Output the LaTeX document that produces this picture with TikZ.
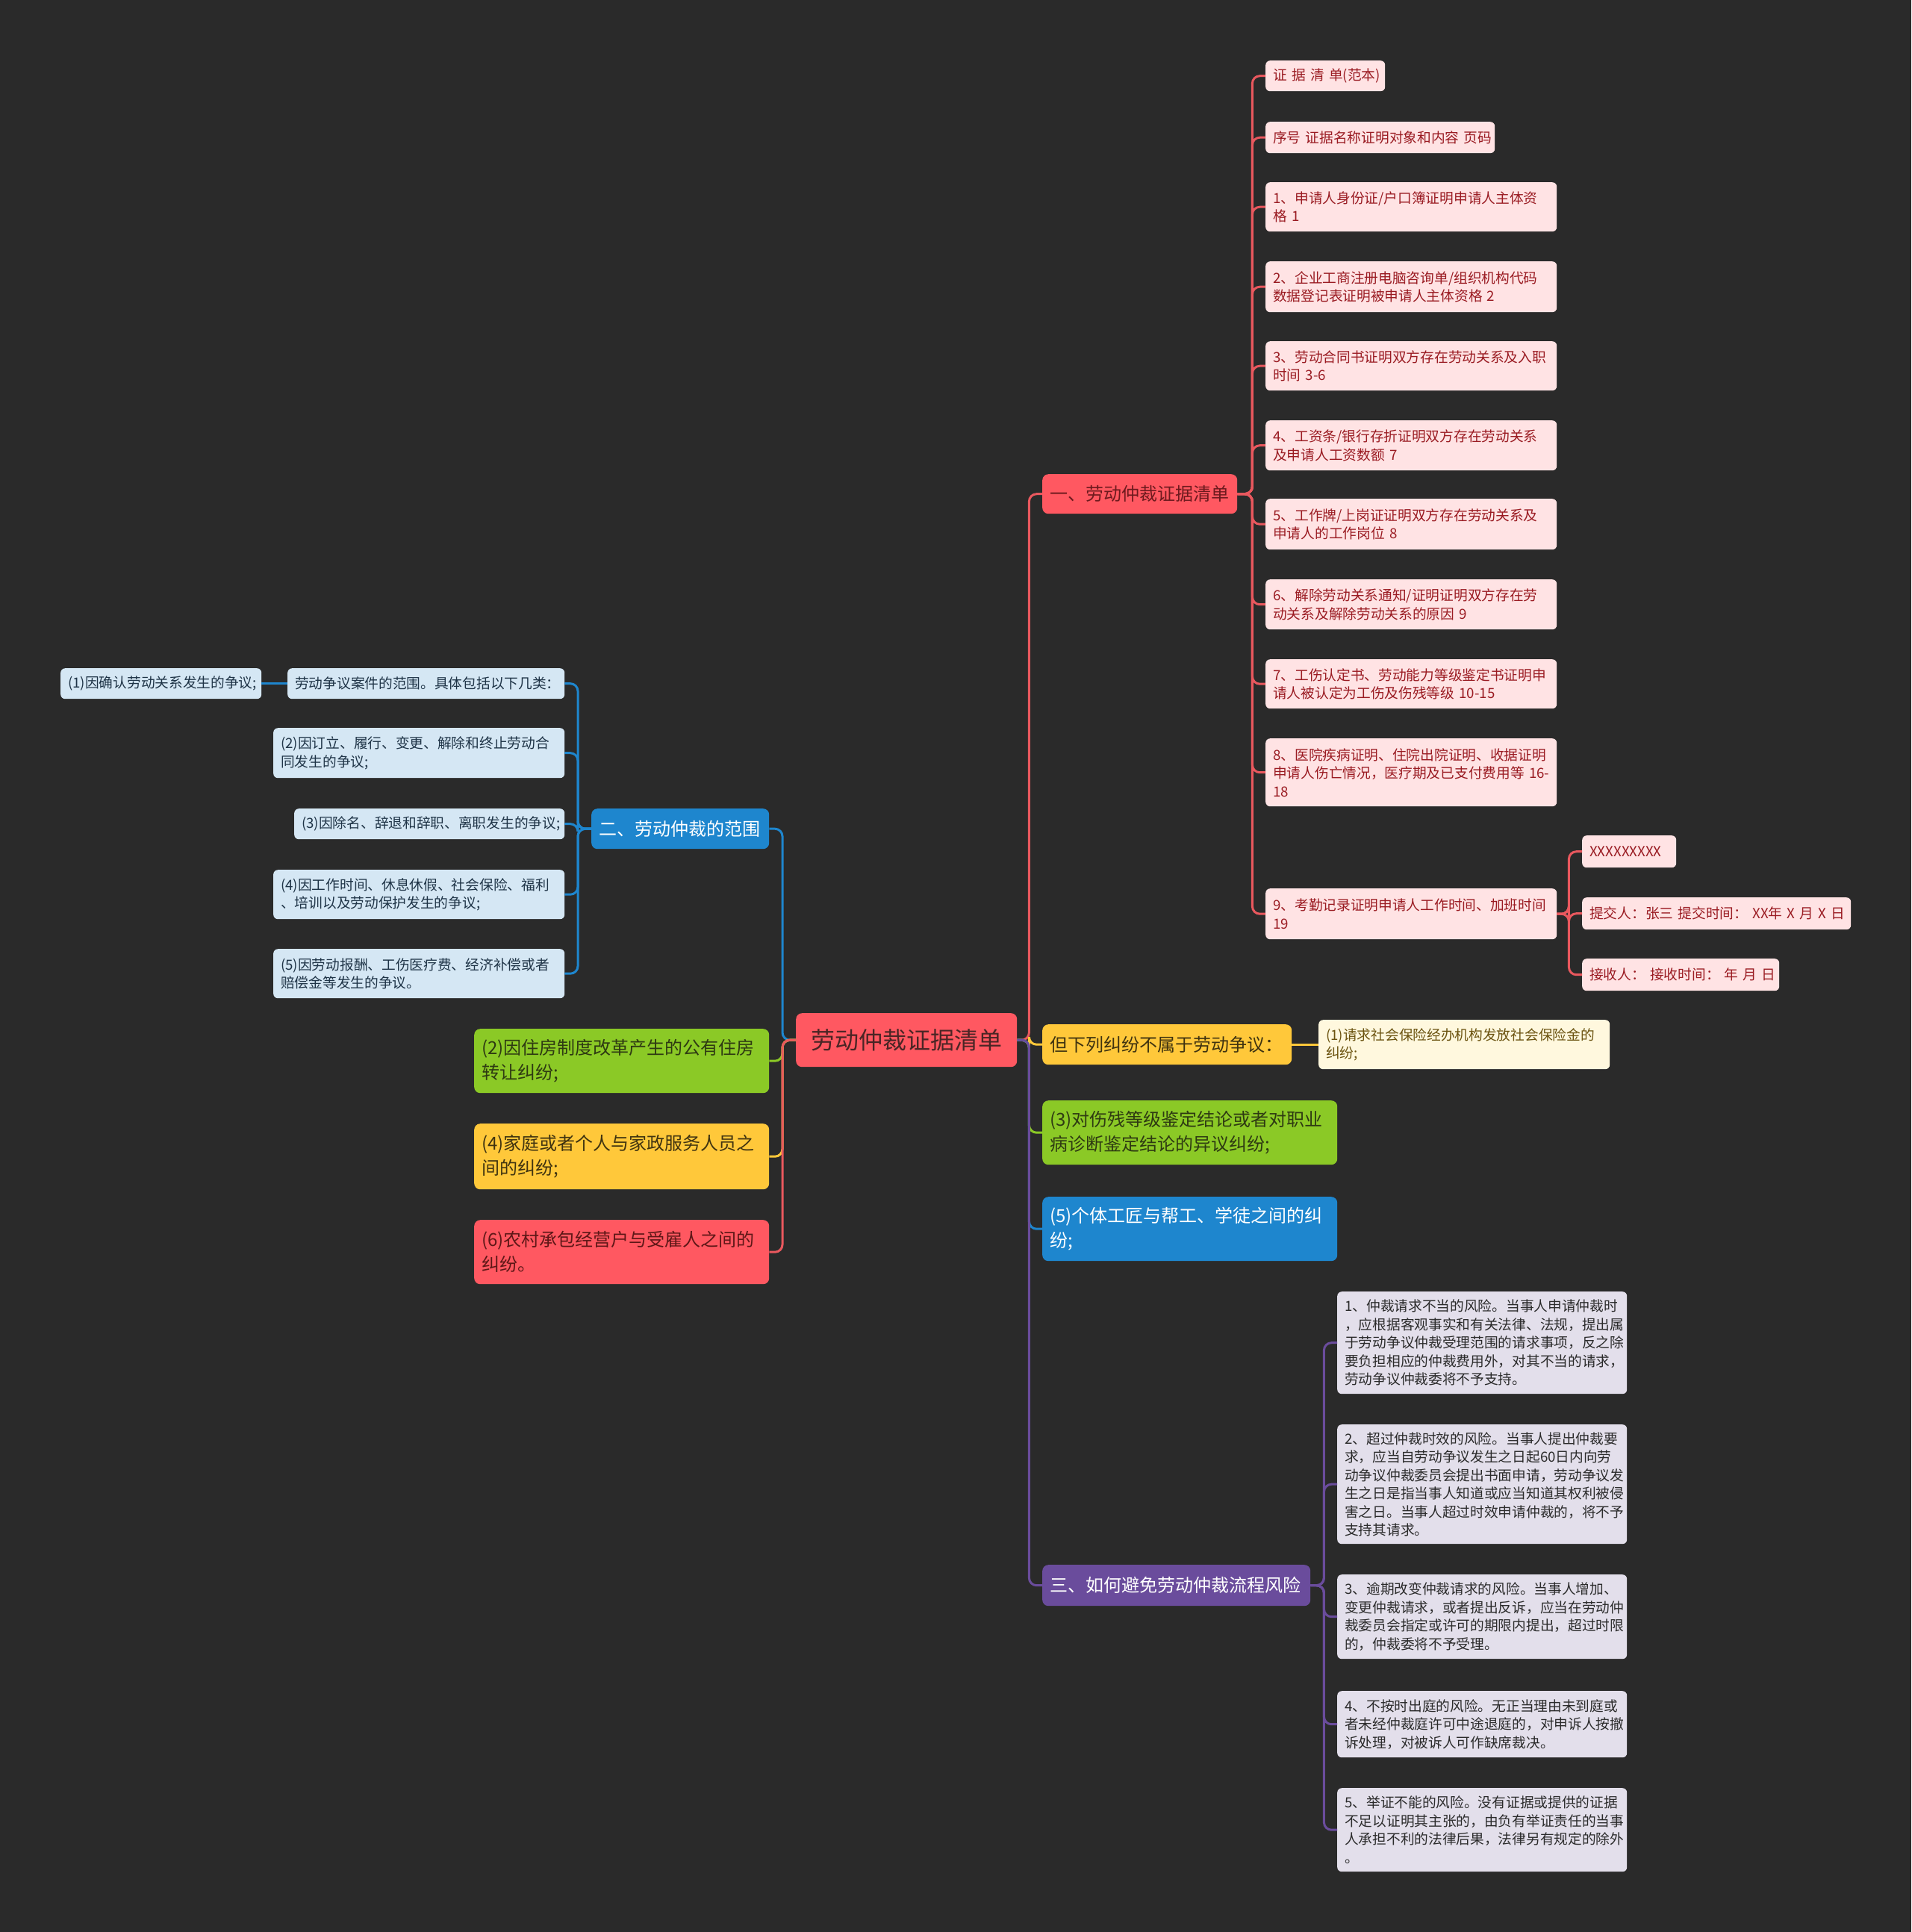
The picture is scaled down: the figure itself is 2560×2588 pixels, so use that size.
\documentclass[tikz,border=0pt]{standalone}
\usepackage{fontspec}
\setmainfont{Noto Sans CJK SC}
\definecolor{bg}{HTML}{2A2A2A}
\definecolor{redF}{HTML}{FF5861}
\definecolor{redL}{HTML}{E9585E}
\definecolor{pinkF}{HTML}{FFE3E4}
\definecolor{pinkT}{HTML}{9A1B22}
\definecolor{blueF}{HTML}{1E86CE}
\definecolor{lblueF}{HTML}{D5E7F4}
\definecolor{lblueT}{HTML}{1F3447}
\definecolor{greenF}{HTML}{8BC926}
\definecolor{greenT}{HTML}{2E3A12}
\definecolor{yelF}{HTML}{FFC83A}
\definecolor{yelT}{HTML}{3F3310}
\definecolor{lyelF}{HTML}{FFF8DE}
\definecolor{lyelT}{HTML}{6B5310}
\definecolor{purF}{HTML}{6A4C9C}
\definecolor{lpurF}{HTML}{E3DFEB}
\definecolor{lpurT}{HTML}{2B2B2B}
\definecolor{cenT}{HTML}{4A2525}
\definecolor{r1T}{HTML}{6E1A1E}
\definecolor{l6T}{HTML}{5E1717}
\tikzset{
  box/.style={rounded corners=6pt, inner xsep=10pt, inner ysep=0pt, align=left, anchor=north west},
  small/.style={box, font=\fontsize{18.7}{24.5}\selectfont},
  big/.style={box, rounded corners=8pt, font=\fontsize{24}{33}\selectfont},
  pinkbox/.style={small, fill=pinkF, text=pinkT},
  lbluebox/.style={small, fill=lblueF, text=lblueT},
  lpurbox/.style={small, fill=lpurF, text=lpurT},
  lyelbox/.style={small, fill=lyelF, text=lyelT},
  ln/.style={line width=3pt, rounded corners=10pt},
  redln/.style={ln, draw=redL},
  blueln/.style={ln, draw=blueF},
  greenln/.style={ln, draw=greenF},
  yelln/.style={ln, draw=yelF},
  purln/.style={ln, draw=purF}
}
\newcommand\bx[7]{\pgfmathsetmacro\tw{#5-20}\node[#2, minimum width=#5pt, minimum height=#6pt, text width=\tw pt] (#1) at (#3,#4) {#7};}
\begin{document}
\begin{tikzpicture}[x=1pt,y=-1pt]
\fill[bg] (0,0) rectangle (2560,2588);
\useasboundingbox (0,0) rectangle (2560,2588);
% center
\bx{C}{big, fill=redF, text=cenT, align=center, font=\fontsize{32}{38}\selectfont}{1066}{1357}{296}{72}{劳动仲裁证据清单}
% branch 1
\bx{R1}{big, fill=redF, text=r1T}{1396}{635}{261}{53}{一、劳动仲裁证据清单}
\bx{c0}{pinkbox}{1695}{81}{160}{41}{\mbox{证~据~清~单(范本)}}
\bx{c1}{pinkbox}{1695}{163}{307}{42}{\mbox{序号~证据名称证明对象和内容~页码}}
\bx{c2}{pinkbox}{1695}{244}{390}{66}{\mbox{1、申请人身份证/户口簿证明申请人主体资}\\格~1}
\bx{c3}{pinkbox}{1695}{350}{390}{68}{\mbox{2、企业工商注册电脑咨询单/组织机构代码}\\数据登记表证明被申请人主体资格~2}
\bx{c4}{pinkbox}{1695}{457}{390}{66}{\mbox{3、劳动合同书证明双方存在劳动关系及入职}\\时间~3-6}
\bx{c5}{pinkbox}{1695}{563}{390}{67}{\mbox{4、工资条/银行存折证明双方存在劳动关系}\\及申请人工资数额~7}
\bx{c6}{pinkbox}{1695}{668}{390}{68}{\mbox{5、工作牌/上岗证证明双方存在劳动关系及}\\申请人的工作岗位~8}
\bx{c7}{pinkbox}{1695}{776}{390}{67}{\mbox{6、解除劳动关系通知/证明证明双方存在劳}\\动关系及解除劳动关系的原因~9}
\bx{c8}{pinkbox}{1695}{883}{390}{66}{\mbox{7、工伤认定书、劳动能力等级鉴定书证明申}\\\mbox{请人被认定为工伤及伤残等级~10-15}}
\bx{c9}{pinkbox}{1695}{989}{390}{91}{\mbox{8、医院疾病证明、住院出院证明、收据证明}\\\mbox{申请人伤亡情况，医疗期及已支付费用等~16-}\\18}
\bx{c10}{pinkbox}{1695}{1190}{390}{68}{\mbox{9、考勤记录证明申请人工作时间、加班时间}\\19}
\bx{g0}{pinkbox}{2119}{1119}{126}{43}{XXXXXXXXX}
\bx{g1}{pinkbox}{2119}{1202}{360}{43}{\mbox{提交人：张三~提交时间：~XX年~X~月~X~日}}
\bx{g2}{pinkbox}{2119}{1284}{264}{43}{\mbox{接收人：~接收时间：~年~月~日}}
% branch 2
\bx{B2}{big, fill=blueF, text=white}{792}{1083}{238}{54}{二、劳动仲裁的范围}
\bx{b0}{lbluebox}{385}{895}{371}{41}{\mbox{劳动争议案件的范围。具体包括以下几类：}}
\bx{b00}{lbluebox}{81}{895}{269}{41}{\mbox{(1)因确认劳动关系发生的争议;}}
\bx{b1}{lbluebox}{366}{975}{390}{67}{\mbox{(2)因订立、履行、变更、解除和终止劳动合}\\同发生的争议;}
\bx{b2}{lbluebox}{394}{1083}{362}{41}{\mbox{(3)因除名、辞退和辞职、离职发生的争议;}}
\bx{b3}{lbluebox}{366}{1165}{390}{66}{\mbox{(4)因工作时间、休息休假、社会保险、福利}\\、培训以及劳动保护发生的争议;}
\bx{b4}{lbluebox}{366}{1271}{390}{66}{\mbox{(5)因劳动报酬、工伤医疗费、经济补偿或者}\\赔偿金等发生的争议。}
% left big
\bx{L2}{big, fill=greenF, text=greenT}{635}{1378}{395}{86}{(2)因住房制度改革产生的公有住房\\转让纠纷;}
\bx{L4}{big, fill=yelF, text=yelT}{635}{1505}{395}{88}{(4)家庭或者个人与家政服务人员之\\间的纠纷;}
\bx{L6}{big, fill=redF, text=l6T}{635}{1634}{395}{86}{(6)农村承包经营户与受雇人之间的\\纠纷。}
% right others
\bx{Y}{big, fill=yelF, text=yelT}{1396}{1372}{334}{54}{但下列纠纷不属于劳动争议：}
\bx{Yc}{lyelbox}{1766}{1366}{390}{66}{\mbox{(1)请求社会保险经办机构发放社会保险金的}\\纠纷;}
\bx{G3}{big, fill=greenF, text=greenT}{1396}{1474}{395}{86}{(3)对伤残等级鉴定结论或者对职业\\病诊断鉴定结论的异议纠纷;}
\bx{B5}{big, fill=blueF, text=white}{1396}{1603}{395}{86}{(5)个体工匠与帮工、学徒之间的纠\\纷;}
\bx{P3}{big, fill=purF, text=white}{1396}{2096}{359}{55}{三、如何避免劳动仲裁流程风险}
\bx{p1}{lpurbox}{1791}{1730}{388}{137}{\mbox{1、仲裁请求不当的风险。当事人申请仲裁时}\\\mbox{，应根据客观事实和有关法律、法规，提出属}\\\mbox{于劳动争议仲裁受理范围的请求事项，反之除}\\\mbox{要负担相应的仲裁费用外，对其不当的请求，}\\劳动争议仲裁委将不予支持。}
\bx{p2}{lpurbox}{1791}{1908}{388}{160}{\mbox{2、超过仲裁时效的风险。当事人提出仲裁要}\\\mbox{求，应当自劳动争议发生之日起60日内向劳}\\\mbox{动争议仲裁委员会提出书面申请，劳动争议发}\\\mbox{生之日是指当事人知道或应当知道其权利被侵}\\\mbox{害之日。当事人超过时效申请仲裁的，将不予}\\支持其请求。}
\bx{p3}{lpurbox}{1791}{2109}{388}{113}{\mbox{3、逾期改变仲裁请求的风险。当事人增加、}\\\mbox{变更仲裁请求，或者提出反诉，应当在劳动仲}\\\mbox{裁委员会指定或许可的期限内提出，超过时限}\\的，仲裁委将不予受理。}
\bx{p4}{lpurbox}{1791}{2265}{388}{89}{\mbox{4、不按时出庭的风险。无正当理由未到庭或}\\\mbox{者未经仲裁庭许可中途退庭的，对申诉人按撤}\\诉处理，对被诉人可作缺席裁决。}
\bx{p5}{lpurbox}{1791}{2395}{388}{112}{\mbox{5、举证不能的风险。没有证据或提供的证据}\\\mbox{不足以证明其主张的，由负有举证责任的当事}\\\mbox{人承担不利的法律后果，法律另有规定的除外}\\。}
% connectors
\foreach \c in {c0,c1,c2,c3,c4,c5,c6,c7,c8,c9,c10}
  \draw[redln] (R1.east) -- ++(20,0) |- (\c.west);
\foreach \g in {g0,g1,g2}
  \draw[redln] (c10.east) -- ++(16,0) |- (\g.west);
\foreach \b in {b0,b1,b2,b3,b4}
  \draw[blueln] (B2.west) -- ++(-18,0) |- (\b.east);
\draw[blueln] (b0.west) -- (b00.east);
\foreach \p in {p1,p2,p3,p4,p5}
  \draw[purln] (P3.east) -- ++(18,0) |- (\p.west);
\draw[yelln] (Y.east) -- (Yc.west |- Y.east);
% center right
\draw[redln] (C.east) -- ++(16,0) |- (R1.west);
\draw[yelln] (C.east) -- ++(16,0) |- (Y.west);
\draw[greenln] (C.east) -- ++(16,0) |- (G3.west);
\draw[blueln] (C.east) -- ++(16,0) |- (B5.west);
\draw[purln] (C.east) -- ++(16,0) |- (P3.west);
% center left
\draw[blueln] (C.west) -- ++(-18,0) |- (B2.east);
\draw[greenln] (C.west) -- ++(-18,0) |- (L2.east);
\draw[yelln] (C.west) -- ++(-18,0) |- (L4.east);
\draw[redln] (C.west) -- ++(-18,0) |- (L6.east);
\end{tikzpicture}
\end{document}
